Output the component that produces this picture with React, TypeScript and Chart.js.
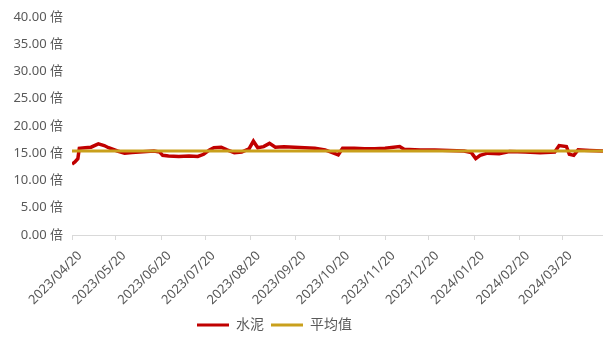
import React, { useEffect, useRef } from "react";
import { Chart, registerables } from "chart.js";

Chart.register(...registerables);

// PE multiple of the cement sector (倍), sampled on trading dates
const dates = [
  "2023/04/20", "2023/04/22", "2023/04/24", "2023/04/25", "2023/04/29",
  "2023/05/03", "2023/05/08", "2023/05/12", "2023/05/15", "2023/05/21",
  "2023/05/26", "2023/05/31", "2023/06/05", "2023/06/10", "2023/06/15",
  "2023/06/19", "2023/06/21", "2023/06/25", "2023/07/02", "2023/07/09",
  "2023/07/15", "2023/07/19", "2023/07/23", "2023/07/26", "2023/07/31",
  "2023/08/04", "2023/08/09", "2023/08/14", "2023/08/19", "2023/08/22",
  "2023/08/25", "2023/08/29", "2023/09/02", "2023/09/06", "2023/09/12",
  "2023/09/19", "2023/09/26", "2023/10/03", "2023/10/10", "2023/10/15",
  "2023/10/19", "2023/10/22", "2023/10/30", "2023/11/06", "2023/11/13",
  "2023/11/20", "2023/11/30", "2023/12/03", "2023/12/14", "2023/12/24",
  "2024/01/03", "2024/01/13", "2024/01/18", "2024/01/21", "2024/01/24",
  "2024/01/29", "2024/02/06", "2024/02/13", "2024/02/24", "2024/03/05",
  "2024/03/15", "2024/03/18", "2024/03/23", "2024/03/25", "2024/03/28",
  "2024/03/31", "2024/04/08", "2024/04/17",
];

const cementValues = [
  13.0, 13.4, 14.0, 15.9, 16.0,
  16.1, 16.7, 16.4, 16.0, 15.4,
  15.0, 15.1, 15.2, 15.3, 15.4,
  15.2, 14.6, 14.5, 14.4, 14.5,
  14.4, 14.8, 15.6, 16.0, 16.1,
  15.6, 15.1, 15.2, 15.8, 17.2,
  16.0, 16.2, 16.8, 16.1, 16.2,
  16.1, 16.0, 15.9, 15.6, 15.1,
  14.7, 15.9, 15.9, 15.8, 15.8,
  15.9, 16.2, 15.7, 15.6, 15.6,
  15.5, 15.4, 15.1, 14.0, 14.6,
  15.0, 14.9, 15.3, 15.2, 15.1,
  15.2, 16.4, 16.2, 14.8, 14.6,
  15.6, 15.5, 15.4,
];

const averageValue = 15.4;

const tickDates = [
  "2023/04/20", "2023/05/20", "2023/06/20", "2023/07/20", "2023/08/20",
  "2023/09/20", "2023/10/20", "2023/11/20", "2023/12/20", "2024/01/20",
  "2024/02/20", "2024/03/20",
];

const seriesNames = ["水泥", "平均值"];
const yTicks = [0, 5, 10, 15, 20, 25, 30, 35, 40];

const startDate = dates[0];
const endDate = dates[dates.length - 1];

const DAY = 86400000;
function toUtc(s: string): number {
  const [y, m, d] = s.split("/").map(Number);
  return Date.UTC(y, m - 1, d);
}
function dayOffset(s: string): number {
  return Math.round((toUtc(s) - toUtc(startDate)) / DAY);
}
function offsetLabel(v: number): string {
  const dt = new Date(toUtc(startDate) + v * DAY);
  const mm = String(dt.getUTCMonth() + 1).padStart(2, "0");
  const dd = String(dt.getUTCDate()).padStart(2, "0");
  return `${dt.getUTCFullYear()}/${mm}/${dd}`;
}

const RED = "#C00000";
const GOLD = "#C9A01C";
const TEXT = "#595959";
const AXIS = "#D9D9D9";
const FONT = "'Noto Sans', 'Noto Sans CJK SC', sans-serif";

// Moves the legend row a little to the left of the canvas centre
const legendShift = {
  id: "legendShift",
  afterLayout(chart: any) {
    const lg = chart.legend;
    if (lg) {
      lg.left -= 27;
      lg.right -= 27;
    }
  },
};

export default function App() {
  const canvasRef = useRef<HTMLCanvasElement | null>(null);

  useEffect(() => {
    const canvas = canvasRef.current;
    if (!canvas) return;
    const endX = dayOffset(endDate);

    const chart = new Chart(canvas, {
      type: "line",
      data: {
        datasets: [
          {
            label: seriesNames[0],
            data: dates.map((d, i) => ({ x: dayOffset(d), y: cementValues[i] })),
            borderColor: RED,
            backgroundColor: RED,
            borderWidth: 3.5,
            pointRadius: 0,
            tension: 0,
            order: 1,
          },
          {
            label: seriesNames[1],
            data: [
              { x: 0, y: averageValue },
              { x: endX, y: averageValue },
            ],
            borderColor: GOLD,
            backgroundColor: GOLD,
            borderWidth: 3,
            pointRadius: 0,
            order: 0,
          },
        ],
      },
      plugins: [legendShift],
      options: {
        responsive: false,
        animation: false,
        layout: { padding: { top: 13, right: 0, bottom: 0, left: 0 } },
        plugins: {
          tooltip: { enabled: false },
          legend: {
            position: "bottom",
            labels: {
              color: TEXT,
              font: { family: FONT, size: 14 },
              boxWidth: 32,
              boxHeight: 3,
              padding: 7,
              sort: (a: any, b: any) => a.datasetIndex - b.datasetIndex,
              generateLabels: (c: any) =>
                Chart.defaults.plugins.legend.labels
                  .generateLabels(c)
                  .map((item: any) => ({
                    ...item,
                    lineWidth: 0,
                    fillStyle: item.strokeStyle,
                  })),
            },
          },
        },
        scales: {
          x: {
            type: "linear",
            min: 0,
            max: endX,
            afterBuildTicks: (scale: any) => {
              scale.ticks = tickDates.map((d) => ({ value: dayOffset(d) }));
            },
            afterFit: (scale: any) => {
              scale.height = 76;
            },
            ticks: {
              autoSkip: false,
              minRotation: 45,
              maxRotation: 45,
              color: TEXT,
              font: { family: FONT, size: 13 },
              padding: 8,
              labelOffset: 8,
              callback: (v: any) => offsetLabel(Number(v)),
            },
            grid: {
              display: true,
              drawOnChartArea: false,
              drawTicks: true,
              tickLength: 5,
              color: AXIS,
            },
            border: { display: true, color: AXIS, width: 1 },
          },
          y: {
            min: 0,
            max: 40,
            afterBuildTicks: (scale: any) => {
              scale.ticks = yTicks.map((v) => ({ value: v }));
            },
            afterFit: (scale: any) => {
              scale.width = 72;
            },
            ticks: {
              color: TEXT,
              font: { family: FONT, size: 13 },
              padding: 9,
              callback: (v: any) => `${Number(v).toFixed(2)} 倍`,
            },
            grid: { display: false, drawTicks: false },
            border: { display: false },
          },
        },
      },
    });

    return () => chart.destroy();
  }, []);

  return (
    <div style={{ position: "fixed", left: 0, top: 0, width: 603, height: 342, background: "#fff" }}>
      <canvas ref={canvasRef} width={603} height={342} style={{ display: "block" }} />
    </div>
  );
}
